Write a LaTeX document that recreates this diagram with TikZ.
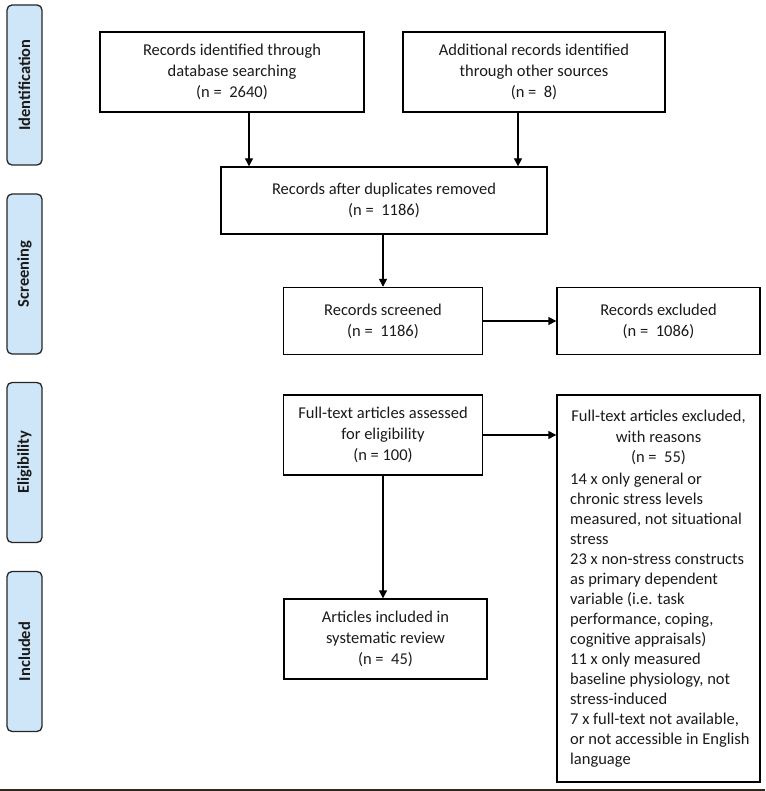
\documentclass[tikz,border=0pt]{standalone}
\usepackage{fontspec}
\setmainfont{Carlito}
\usetikzlibrary{arrows.meta}
\definecolor{lblfill}{HTML}{CFE6F8}
\definecolor{txt}{HTML}{1A1A1A}
\definecolor{bottomline}{HTML}{2E271C}
\begin{document}
\begin{tikzpicture}[x=1pt,y=-1pt,
  box/.style={draw=black, line width=1.4pt, align=center, text=txt,
    font=\fontsize{16.5}{21}\selectfont, inner sep=0pt},
  plain/.style={text=txt, font=\fontsize{16.5}{20}\selectfont, inner sep=0pt},
  lbl/.style={draw=black!85, line width=1.3pt, fill=lblfill, rounded corners=5pt,
    rotate=90, minimum width=160pt, minimum height=35pt, inner sep=0pt,
    text=txt, font=\fontsize{16.5}{18}\selectfont\bfseries},
  arr/.style={line width=1.4pt, -{Triangle[length=8pt,width=8pt]}}]
\useasboundingbox (0,0) rectangle (765,791);
% phase labels
\node[lbl] (lid) at (24.5,85) {Identification};
\node[lbl] (lsc) at (24.5,274) {Screening};
\node[lbl] (lel) at (24.5,462.5) {Eligibility};
\node[lbl] (lin) at (24.5,651.5) {Included};
% boxes
\node[box, minimum width=264pt, minimum height=80pt] (b1) at (232,72)
  {Records identified through\\database searching\\(n =\ \ 2640)};
\node[box, minimum width=262pt, minimum height=80pt] (b2) at (534,72)
  {Additional records identified\\through other sources\\(n =\ \ 8)};
\node[box, minimum width=326pt, minimum height=67pt] (b3) at (384,200.5)
  {Records after duplicates removed\\(n =\ \ 1186)};
\node[box, minimum width=199pt, minimum height=67pt] (b4) at (383,321)
  {Records screened\\(n =\ \ 1186)};
\node[box, minimum width=203pt, minimum height=67pt] (b5) at (658.5,321)
  {Records excluded\\(n =\ \ 1086)};
\node[box, minimum width=199pt, minimum height=80pt] (b6) at (383,435)
  {Full-text articles assessed\\for eligibility\\(n = 100)};
\node[box, minimum width=203pt, minimum height=387pt] (b7) at (658.5,588.5) {};
\node[plain, align=center, font=\fontsize{16.5}{20.5}\selectfont] (b7head) at (658.5,437.5)
  {Full-text articles excluded,\\with reasons\\(n =\ \ 55)};
\node[plain, align=left, anchor=west] (b7list) at (570,620)
  {14 x only general or\\chronic stress levels\\measured, not situational\\stress\\
   23 x non-stress constructs\\as primary dependent\\variable (i.e. task\\performance, coping,\\cognitive appraisals)\\
   11 x only measured\\baseline physiology, not\\stress-induced\\
   7 x full-text not available,\\or not accessible in English\\language};
\node[box, minimum width=203pt, minimum height=80pt] (b8) at (385.5,639)
  {Articles included in\\systematic review\\(n =\ \ 45)};
% connectors
\draw[arr] ([xshift=17pt]b1.south) -- ([xshift=17pt]b1.south |- b3.north);
\draw[arr] ([xshift=-16pt]b2.south) -- ([xshift=-16pt]b2.south |- b3.north);
\draw[arr] (b4.north |- b3.south) -- (b4.north);
\draw[arr] (b4.east) -- (b5.west);
\draw[arr] (b6.east) -- (b6.east -| b7.west);
\draw[arr] (b6.south) -- (b6.south |- b8.north);
% bottom edge line
\draw[bottomline, line width=2pt] (0,790) -- (765,790);
\end{tikzpicture}
\end{document}
